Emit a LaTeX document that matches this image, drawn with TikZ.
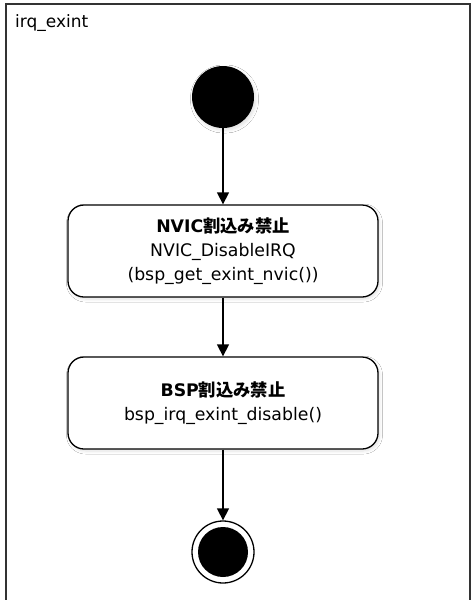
\documentclass[tikz,border=0pt]{standalone}
\usepackage{fontspec}
\setmainfont{DejaVu Sans}
\newfontfamily\cjk{Noto Sans CJK JP}
\usetikzlibrary{arrows.meta,shadows.blur}
\tikzset{
  softshadow/.style={blur shadow={shadow xshift=1.5pt, shadow yshift=-2pt, shadow blur steps=6, shadow blur extra rounding=2pt, shadow opacity=12, shadow blur radius=3pt}},
  statebox/.style={draw=black, line width=1.3pt, fill=white, rounded corners=16pt, minimum width=310pt, minimum height=92pt, align=center, font=\fontsize{17.3}{24}\selectfont, inner sep=0pt, softshadow},
  flow/.style={line width=1.3pt, -{Triangle[width=12pt,length=12pt]}},
}
\begin{document}
\begin{tikzpicture}[x=1pt,y=-1pt]
\useasboundingbox (0,0) rectangle (471,600);
\begin{scope}
\clip (0,0) rectangle (471,600);
\draw[line width=2pt, draw=black!80, fill=white, softshadow] (6,4) rectangle (470,620);
\end{scope}
\node[anchor=west, font=\fontsize{17}{20}\selectfont, inner sep=0pt] (title) at (15,23) {irq\_exint};
\node[circle, fill=black, minimum size=62pt, inner sep=0pt, softshadow] (start) at (223,97) {};
\node[statebox] (n1) at (223,251) {{\bfseries NVIC{\cjk\bfseries 割込み禁止}}\\NVIC\_DisableIRQ\\(bsp\_get\_exint\_nvic())};
\node[statebox] (n2) at (223,403) {{\bfseries BSP{\cjk\bfseries 割込み禁止}}\\bsp\_irq\_exint\_disable()};
\node[circle, draw=black, fill=white, line width=1.3pt, minimum size=62pt, inner sep=0pt] (end) at (223,552) {};
\fill[black] (end.center) circle (25pt);
\draw[flow] (start) -- (n1);
\draw[flow] (n1) -- (n2);
\draw[flow] (n2) -- (end);
\end{tikzpicture}
\end{document}
